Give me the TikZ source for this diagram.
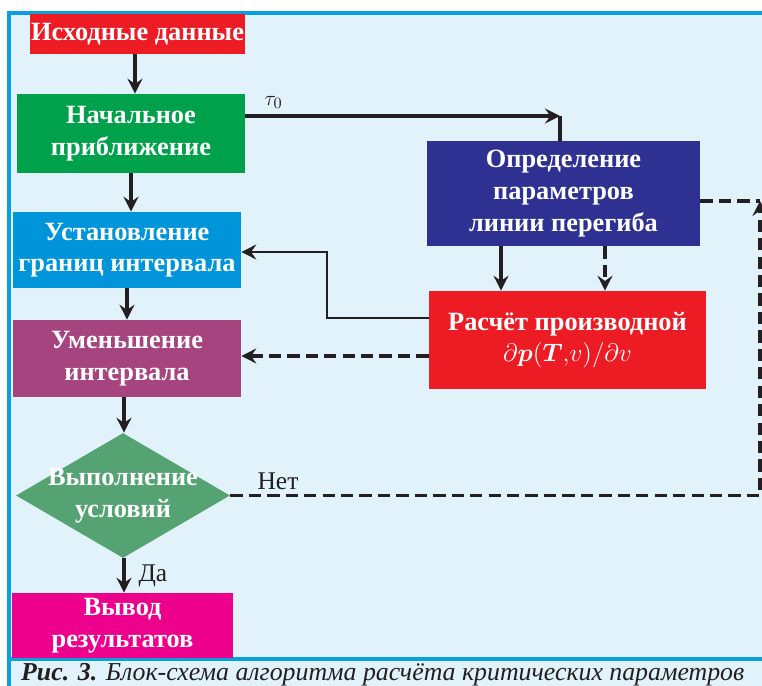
\documentclass[tikz,border=0pt]{standalone}
\usepackage{amsmath}
\usepackage{fontspec}
\setmainfont{Liberation Serif}
\usetikzlibrary{shapes.geometric, arrows.meta}

\definecolor{bgblue}{HTML}{E1F2FA}
\definecolor{framecol}{HTML}{0AA0DC}
\definecolor{linecol}{HTML}{231F20}
\definecolor{srcred}{HTML}{ED1C24}
\definecolor{initgreen}{HTML}{00A14B}
\definecolor{boundblue}{HTML}{0095DA}
\definecolor{shrinkpurple}{HTML}{A5447F}
\definecolor{condgreen}{HTML}{55A273}
\definecolor{outmagenta}{HTML}{EC008C}
\definecolor{inflnavy}{HTML}{2E3192}

\begin{document}
\begin{tikzpicture}[x=0.02cm, y=-0.02cm,
    block/.style={fill=#1, text=white, font=\fontsize{15}{18}\selectfont\bfseries, align=center, inner sep=0pt},
    flow/.style={-{Stealth[length=8.5pt, width=8.5pt, inset=3pt]}, line width=1.9pt, draw=linecol},
    dashflow/.style={flow, dash pattern=on 7pt off 3.5pt},
    lbl/.style={text=linecol, font=\fontsize{14.5}{17}\selectfont}]

    % frame and background
    \useasboundingbox (0,0) rectangle (762,686);
    \fill[white] (0,0) rectangle (762,686);
    \fill[bgblue] (9,13) rectangle (762,686);
    \draw[framecol, line width=2pt] (9,686) -- (9,13) -- (762,13);
    \draw[framecol, line width=2pt] (9,659) -- (762,659);

    % left column
    \node[block=srcred, minimum width=4.3cm, minimum height=0.8cm] (src) at (137.5,34) {Исходные данные};
    \node[block=initgreen, minimum width=4.56cm, minimum height=1.58cm] (init) at (131,133.5) {Начальное\\приближение};
    \node[block=boundblue, minimum width=4.56cm, minimum height=1.52cm] (bounds) at (127,250) {Установление\\границ интервала};
    \node[block=shrinkpurple, minimum width=4.56cm, minimum height=1.54cm] (shrink) at (127,358.5) {Уменьшение\\интервала};
    \node[diamond, fill=condgreen, minimum width=4.28cm, minimum height=2.5cm, inner sep=0pt] (cond) at (123,495.5) {};
    \node[block=condgreen, fill=none] (condtext) at (cond) {Выполнение\\условий};
    \node[block=outmagenta, minimum width=4.42cm, minimum height=1.3cm] (out) at (122.5,625.5) {Вывод\\результатов};

    % right column
    \node[block=inflnavy, minimum width=5.46cm, minimum height=2.1cm] (infl) at (563.5,193.5) {Определение\\параметров\\линии перегиба};
    \node[block=srcred, minimum width=5.54cm, minimum height=1.96cm] (deriv) at (567.5,340) {Расчёт производной\\$\partial\boldsymbol{p}(\boldsymbol{T}{,}v)/\partial v$};

    % main flow
    \draw[flow] (src.south -| 135,0) -- (init.north -| 135,0);
    \draw[flow] (init.south -| 131,0) -- (bounds.north -| 131,0);
    \draw[flow] (bounds.south -| 127,0) -- (shrink.north -| 127,0);
    \draw[flow] (shrink.south -| 124,0) -- (cond.north -| 124,0);
    \draw[flow] (cond.south -| 124,0) -- (out.north -| 124,0) node[lbl, midway, right=4pt] {Да};

    % to the inflection block
    \coordinate (tau) at (560,116);
    \draw[flow] (init.east |- tau) -- (tau) node[lbl, pos=0.09, above, font=\fontsize{13}{15}\selectfont] {$\tau_0$};
    \draw[linecol, line width=1.9pt] (tau) -- (infl.north -| tau);
    \draw[flow, line width=2.6pt] (infl.south -| 501,0) -- (deriv.north -| 501,0);
    \draw[dashflow] (infl.south -| 605,0) -- (deriv.north -| 605,0);

    % back to the left column
    \draw[flow, line width=1.5pt] (deriv.west |- 0,318) -- (327,318) -- (327,252) -- (bounds.east |- 0,252);
    \draw[dashflow] (deriv.west |- 0,356) -- (shrink.east |- 0,356);

    % loop on the right
    \coordinate (loop) at (760,201);
    \draw[dashflow, -] (infl.east |- loop) -- (loop);
    \draw[dashflow] (cond.east) -- node[lbl, pos=0.09, above, yshift=-1pt] {Нет} (cond.east -| loop) -- (loop);

    % caption
    \node[lbl, anchor=base west, font=\fontsize{14.7}{17}\selectfont\itshape] (caption) at (15,681) {\textbf{Рис. 3.} Блок-схема алгоритма расчёта критических параметров};
\end{tikzpicture}
\end{document}
